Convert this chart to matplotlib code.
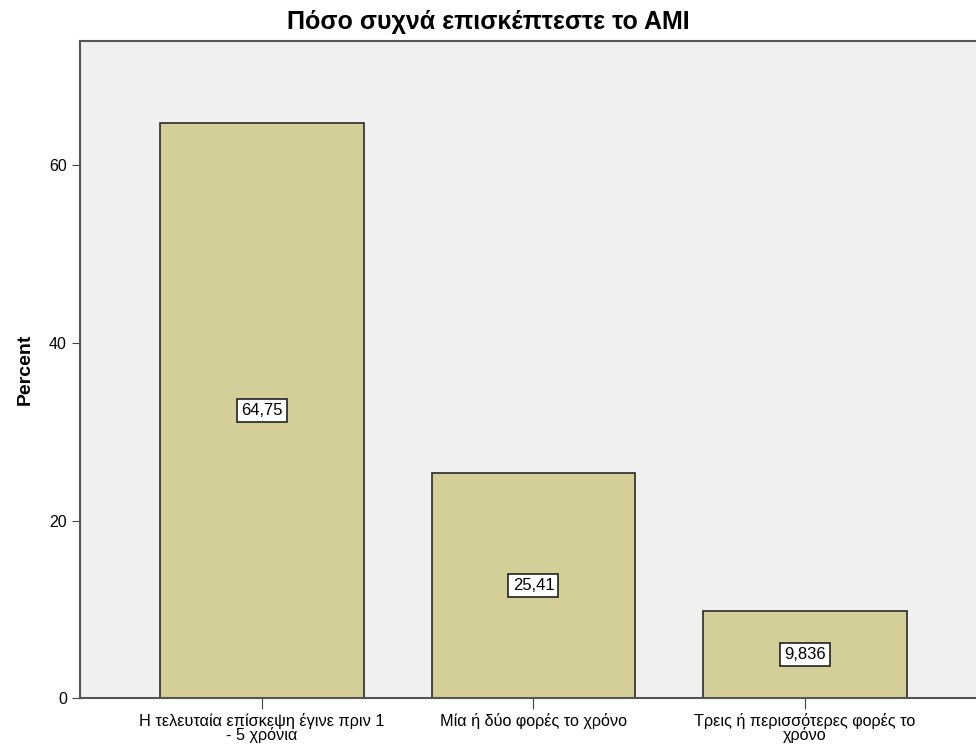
import matplotlib.pyplot as plt

plt.rcParams['font.family'] = ['Liberation Sans', 'DejaVu Sans']

# δεδομένα
categories = ['Η τελευταία επίσκεψη έγινε πριν 1\n- 5 χρόνια',
              'Μία ή δύο φορές το χρόνο',
              'Τρεις ή περισσότερες φορές το\nχρόνο']
percent = [64.75, 25.41, 9.836]
labels = ['64,75', '25,41', '9,836']
yticks = [0, 20, 40, 60]

fig = plt.figure(figsize=(9.76, 7.49), dpi=100)
ax = fig.add_axes([0.082, 0.068, 0.918, 0.877])
ax.set_facecolor('#F0F0F0')

x = list(range(len(categories)))
ax.bar(x, percent, width=0.75, color='#D4CF98', edgecolor='#2a2a2a', linewidth=1.2, zorder=2)

# ετικέτες τιμών στη μέση κάθε μπάρας
for xi, v, lab in zip(x, percent, labels):
    ax.text(xi, v / 2, lab, ha='center', va='center', fontsize=12, zorder=3,
            bbox=dict(boxstyle='square,pad=0.25', fc='white', ec='#222222', lw=1.2))

ax.set_xlim(-0.67, 2.63)
ax.set_ylim(0, 74)
ax.set_yticks(yticks)
ax.set_xticks(x)
ax.set_xticklabels(categories, fontsize=11.7, linespacing=0.85)
ax.tick_params(axis='y', labelsize=11.5, length=6, color='#444444')
ax.tick_params(axis='x', length=8, color='#444444', pad=3)

for side in ['left', 'top', 'bottom']:
    ax.spines[side].set_color('#555555')
    ax.spines[side].set_linewidth(1.5)
ax.spines['right'].set_visible(False)

ax.set_ylabel('Percent', fontsize=14, fontweight='bold', labelpad=11)
fig.text(0.5, 0.971, 'Πόσο συχνά επισκέπτεστε το AMI', ha='center', va='center',
         fontsize=18, fontweight='bold')

fig.savefig('out.png', dpi=100, facecolor='white')
